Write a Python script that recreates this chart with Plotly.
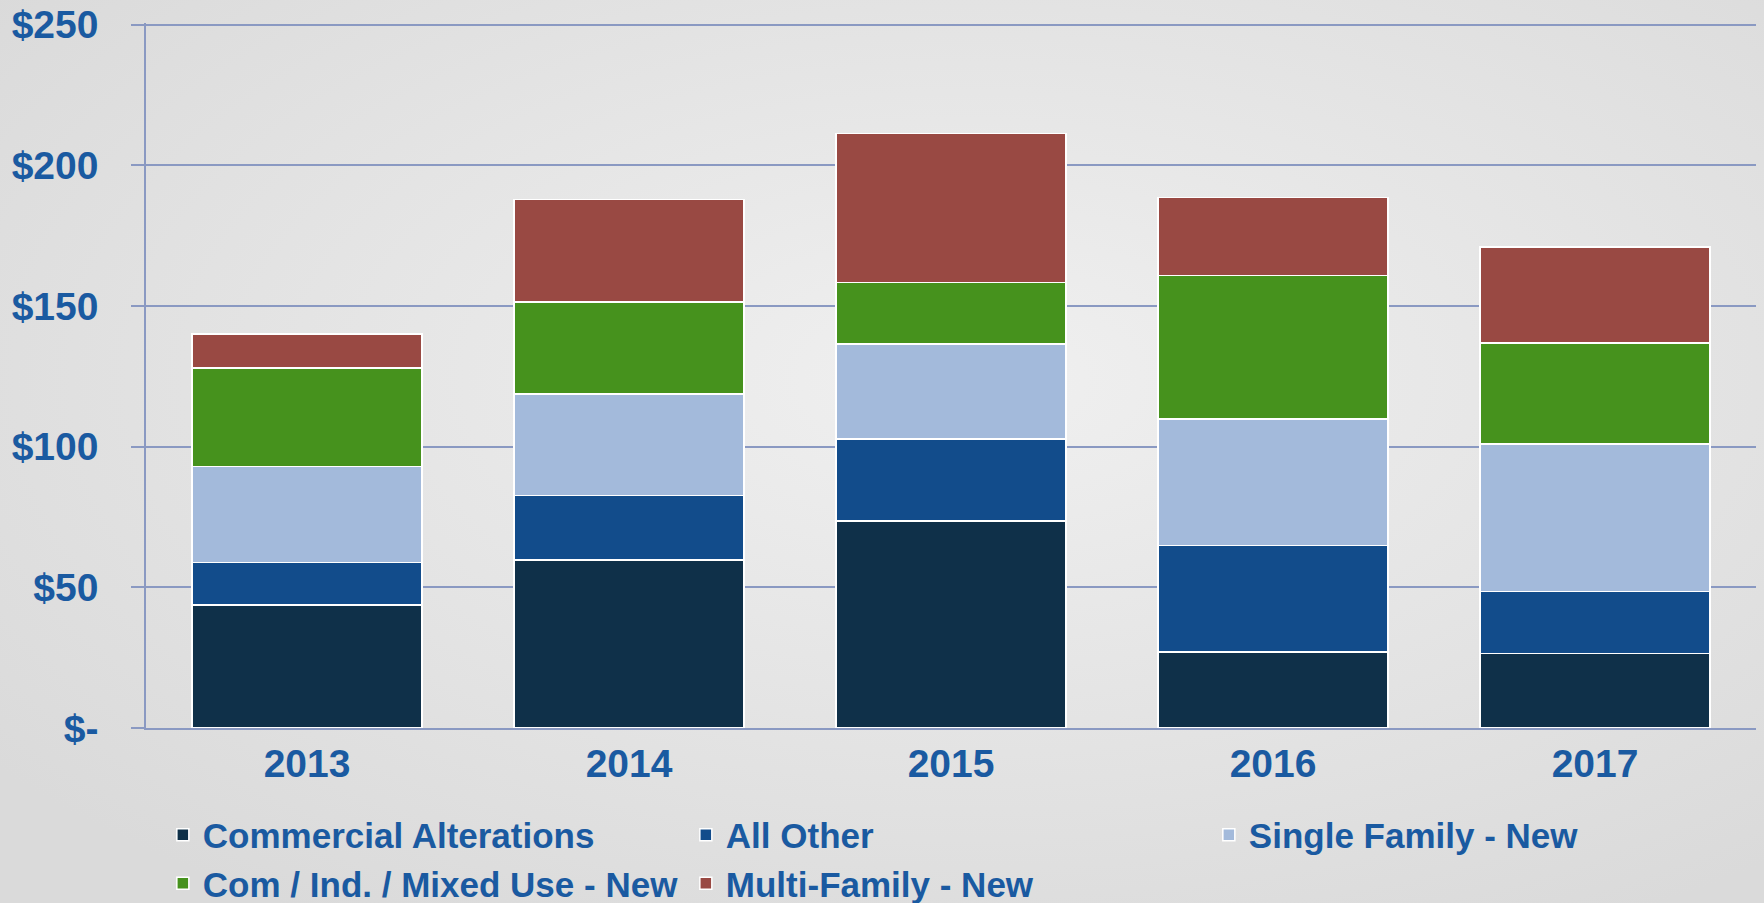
import base64
import plotly.graph_objects as go

years = ["2013", "2014", "2015", "2016", "2017"]
commercial_alterations = [43.8, 59.8, 73.5, 27.1, 26.5]
all_other = [15.0, 22.8, 29.2, 37.8, 22.1]
single_family_new = [34.1, 36.2, 33.8, 44.9, 52.3]
com_ind_mixed_new = [35.1, 32.7, 21.8, 51.1, 35.9]
multi_family_new = [12.1, 36.4, 53.1, 27.7, 34.2]

series_names = ["Commercial Alterations", "All Other", "Single Family - New",
                "Com / Ind. / Mixed Use - New", "Multi-Family - New"]
series_values = [commercial_alterations, all_other, single_family_new,
                 com_ind_mixed_new, multi_family_new]
series_colors = ["#0f3049", "#124c8b", "#a3badb", "#46921d", "#994943"]

y_tickvals = [0, 50, 100, 150, 200, 250]
y_ticktext = ["$-", "$50", "$100", "$150", "$200", "$250"]

TEXT = "#1a5aa1"
GRID = "#8a99c2"
FONT = "Liberation Sans, Arial, sans-serif"

W, H = 1764, 903
ML, MR, MT, MB = 146, 8, 23, 175
PW, PH = W - ML - MR, H - MT - MB
Y_TOP = 250.6

fig = go.Figure()
for name, vals, col in zip(series_names, series_values, series_colors):
    fig.add_trace(go.Bar(
        x=years, y=vals, name=name,
        marker=dict(color=col, line=dict(color="white", width=1.5)),
    ))

svg = (f'<svg xmlns="http://www.w3.org/2000/svg" width="{W}" height="{H}">'
       '<defs><radialGradient id="g" cx="0.55" cy="0.42" r="0.7">'
       '<stop offset="0" stop-color="#f0f0f0"/><stop offset="1" stop-color="#dadada"/>'
       '</radialGradient></defs>'
       f'<rect width="{W}" height="{H}" fill="url(#g)"/></svg>')
src = "data:image/svg+xml;base64," + base64.b64encode(svg.encode()).decode()

fig.update_layout(
    width=W, height=H,
    margin=dict(l=ML, r=MR, t=MT, b=MB, pad=0, autoexpand=False),
    barmode="stack",
    bargap=0.287,
    paper_bgcolor="#e6e6e6",
    plot_bgcolor="rgba(0,0,0,0)",
    font=dict(family=FONT, color=TEXT),
    images=[dict(source=src, xref="paper", yref="paper",
                 x=-ML / PW, y=1 + MT / PH, sizex=W / PW, sizey=H / PH,
                 xanchor="left", yanchor="top", sizing="stretch", layer="below")],
    xaxis=dict(
        showgrid=False, showline=True, linecolor=GRID, linewidth=2,
        ticks="", tickfont=dict(size=39, family=FONT, color=TEXT, weight="bold"),
        ticklabelstandoff=0,
    ),
    yaxis=dict(
        range=[0, Y_TOP], tickvals=y_tickvals, ticktext=y_ticktext,
        showgrid=True, gridcolor=GRID, gridwidth=1.5,
        showline=True, linecolor=GRID, linewidth=1.5,
        ticks="outside", ticklen=13, tickcolor=GRID, tickwidth=1.5,
        tickfont=dict(size=39, family=FONT, color=TEXT, weight="bold"),
        ticklabelstandoff=25, zeroline=False,
    ),
    legend=dict(
        orientation="h", x=-0.0001, xanchor="left", y=-0.11, yanchor="top",
        traceorder="normal", entrywidth=461, entrywidthmode="pixels",
        itemwidth=30, indentation=17,
        font=dict(size=35, family=FONT, color=TEXT, weight="bold"),
        bgcolor="rgba(0,0,0,0)", itemclick=False,
    ),
    showlegend=True,
)

fig.write_html("out.html", config={"displayModeBar": False},
               post_script="document.body.style.margin='0';")
